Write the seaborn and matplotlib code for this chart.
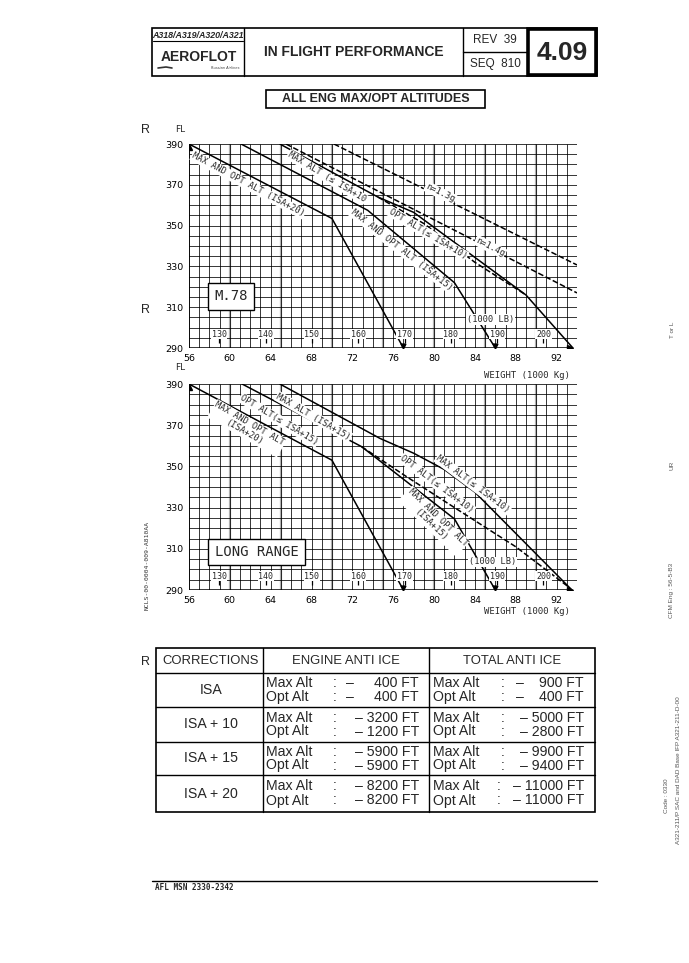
"""ALL ENG MAX/OPT ALTITUDES page (IFP 4.09)"""
import matplotlib
matplotlib.use("Agg")
import matplotlib.pyplot as plt
import numpy as np
import pandas as pd
import seaborn as sns
from matplotlib.patches import Rectangle

# ---- chart data (weight in 1000 kg, flight level) ----
m78_isa20_wt = [56, 70, 77]
m78_isa20_fl = [390, 353.5, 290]
m78_isa15_wt = [61.1, 73.5, 82, 86]
m78_isa15_fl = [390, 357.5, 322, 290]
m78_max10_wt = [64.9, 74.5, 78, 89, 93.6]
m78_max10_fl = [390, 364, 356.5, 316, 290]
m78_opt10_wt = [74.5, 79, 84, 89]
m78_opt10_fl = [364, 351, 332, 316]
m78_n13_wt = [70.2, 94]
m78_n13_fl = [390, 330.7]
m78_n14_wt = [65.5, 94]
m78_n14_fl = [390, 317]

lr_isa20_wt = [56, 70, 77]
lr_isa20_fl = [390, 353, 290]
lr_isa15_wt = [61.2, 72.9, 82, 86]
lr_isa15_fl = [390, 359.6, 324.5, 290]
lr_max_wt = [64.9, 74.7, 78, 81, 84, 93.5]
lr_max_fl = [390, 363.6, 356.4, 348.5, 337.5, 290]
lr_opt10_wt = [72.9, 77, 82, 88, 93.3]
lr_opt10_fl = [359.6, 346, 330, 311, 291]

pound_ticks = [130, 140, 150, 160, 170, 180, 190, 200]
fl_ticks = [290, 310, 330, 350, 370, 390]
wt_ticks = [56, 60, 64, 68, 72, 76, 80, 84, 88, 92]

# ---- corrections table ----
corrections = ["ISA", "ISA + 10", "ISA + 15", "ISA + 20"]
engine_max = [400, 3200, 5900, 8200]
engine_opt = [400, 1200, 5900, 8200]
total_max = [900, 5000, 9900, 11000]
total_opt = [400, 2800, 9400, 11000]

W, H = 689, 963
MONO = "DejaVu Sans Mono"
SANS = "Liberation Sans"

sns.set_theme(style="white")
plt.rcParams["font.family"] = ["DejaVu Sans"]

fig = plt.figure(figsize=(W / 100, H / 100), dpi=100)
fig.patch.set_facecolor("white")
page = fig.add_axes([0, 0, 1, 1])
page.set_xlim(0, W)
page.set_ylim(H, 0)
page.axis("off")


def box(x0, y0, x1, y1, lw=1.0):
    page.add_patch(Rectangle((x0, y0), x1 - x0, y1 - y0, fill=False,
                             edgecolor="black", lw=lw))


def line(x0, y0, x1, y1, lw=1.0):
    page.plot([x0, x1], [y0, y1], color="black", lw=lw)


# header
box(152, 28, 597, 76, lw=1.2)
line(244, 28, 244, 76)
line(463, 28, 463, 76)
line(463, 52, 527, 52)
box(528, 29, 596, 75, lw=2.6)
page.text(198, 35, "A318/A319/A320/A321", fontsize=6.4, fontweight="bold",
          style="italic", family=SANS, ha="center", va="center")
line(153, 41.5, 243, 41.5, lw=0.8)
page.text(199, 57, "AEROFLOT", fontsize=10, fontweight="bold", family=SANS,
          ha="center", va="center")
page.plot([158, 166, 172], [68, 67, 68], color="#333", lw=1.2)
page.text(225, 68, "Russian Airlines", fontsize=2.6, color="#444",
          ha="center", va="center", style="italic")
page.text(354, 52, "IN FLIGHT PERFORMANCE", fontsize=10, fontweight="bold",
          family=SANS, ha="center", va="center")
page.text(495, 40, "REV  39", fontsize=8.5, family=SANS,
          ha="center", va="center")
page.text(495, 64, "SEQ  810", fontsize=8.5, family=SANS,
          ha="center", va="center")
page.text(562, 53, "4.09", fontsize=19, fontweight="bold", family=SANS,
          ha="center", va="center")

# title
box(266, 90, 485, 108, lw=1.2)
page.text(375.5, 99.5, "ALL ENG MAX/OPT ALTITUDES", fontsize=9,
          fontweight="bold", family=SANS, ha="center", va="center")

for y in (130, 310, 662):
    page.text(145, y, "R", fontsize=9, family=SANS, ha="center", va="center")


def draw_chart(rect, curves, labels, box_text, box_xy, lb_y):
    ax = fig.add_axes(rect)
    ax.set_xlim(56, 94)
    ax.set_ylim(290, 390)
    ax.patch.set_alpha(0)
    for s in ax.spines.values():
        s.set_visible(False)
    ax.vlines(np.arange(56, 95), 290, 390, color="black", lw=0.55, zorder=1)
    ax.hlines(np.arange(290, 391, 5), 56, 94, color="black", lw=0.55,
              zorder=1)
    ax.vlines(np.arange(60, 95, 5), 290, 390, color="#b0b0b0", lw=1.6,
              zorder=0.9)
    ax.plot([56, 56], [290, 390], color="black", lw=1.1, zorder=3)
    ax.plot([56, 93.3], [290, 290], color="black", lw=1.1, zorder=3)
    ax.plot([56], [388.5], marker="^", color="black", ms=4, zorder=4)
    ax.plot([93.3], [290], marker=">", color="black", ms=5, zorder=4)

    for wt, fl, ls, arrow in curves:
        df = pd.DataFrame({"weight": wt, "fl": fl})
        sns.lineplot(data=df, x="weight", y="fl", ax=ax, sort=False,
                     estimator=None, color="black", lw=1.1, linestyle=ls,
                     zorder=3)
        if arrow:
            ax.plot([wt[-1]], [fl[-1] + 1.2], marker="v", color="black",
                    ms=3.5, zorder=4)

    for txt, x, y, rot in labels:
        ax.text(x, y, txt, rotation=rot, family=MONO, fontsize=6.2,
                ha="center", va="center", rotation_mode="anchor", zorder=5,
                bbox=dict(facecolor="white", edgecolor="none", pad=0.6))

    for lb in pound_ticks:
        w = lb * 0.45359237
        ax.text(w, lb_y, str(lb), family=MONO, fontsize=6, ha="center",
                va="center", zorder=5,
                bbox=dict(facecolor="white", edgecolor="none", pad=0.4))
        ax.vlines(w, 292.3, 295, color="black", lw=0.9, zorder=3)

    bx, by = box_xy
    ax.text(bx, by, box_text, family=MONO, fontsize=10, ha="left",
            va="center", zorder=6,
            bbox=dict(facecolor="white", edgecolor="black", lw=1.0,
                      boxstyle="square,pad=0.45"))

    ax.set_xticks(wt_ticks)
    ax.set_yticks(fl_ticks)
    ax.tick_params(axis="both", length=3, width=0.8, labelsize=6.8,
                   direction="out", pad=1, colors="black")
    ax.set_xlabel("")
    ax.set_ylabel("")
    return ax


top_curves = [
    (m78_isa20_wt, m78_isa20_fl, "-", True),
    (m78_isa15_wt, m78_isa15_fl, "-", True),
    (m78_max10_wt, m78_max10_fl, "-", False),
    (m78_opt10_wt, m78_opt10_fl, "--", False),
    (m78_n13_wt, m78_n13_fl, "--", False),
    (m78_n14_wt, m78_n14_fl, "--", False),
]
top_labels = [
    ("MAX AND OPT ALT (ISA+20)", 61.8, 370, -28),
    ("MAX ALT (≤ ISA+10", 69.5, 373.8, -31),
    ("n=1.3g", 80.6, 366, -26),
    ("OPT ALT(≤ ISA+10)", 79.4, 346, -31),
    ("n=1.4g", 85.5, 339.5, -27),
    ("MAX AND OPT ALT (ISA+15)", 76.8, 338, -38),
    ("(1000 LB)", 85.5, 304, 0),
]
draw_chart([189 / W, 1 - 348 / H, 388 / W, 204 / H], top_curves, top_labels,
           "M.78", (58.5, 315.3), 296.7)

bot_curves = [
    (lr_isa20_wt, lr_isa20_fl, "-", True),
    (lr_isa15_wt, lr_isa15_fl, "-", True),
    (lr_max_wt, lr_max_fl, "-", False),
    (lr_opt10_wt, lr_opt10_fl, "--", False),
]
bot_labels = [
    ("MAX AND OPT ALT\n(ISA+20)", 61.7, 368.5, -30),
    ("OPT ALT(≤ ISA+15)", 64.8, 372.5, -31),
    ("MAX ALT (ISA+15)", 68.2, 374.1, -30),
    ("MAX ALT(≤ ISA+10)", 83.8, 341.3, -37),
    ("OPT ALT(≤ ISA+10)", 80.3, 341.3, -37),
    ("MAX AND OPT ALT\n(ISA+15)", 80.0, 323.5, -44),
    ("(1000 LB)", 85.7, 303.6, 0),
]
draw_chart([189 / W, 1 - 590 / H, 388 / W, 206 / H], bot_curves, bot_labels,
           "LONG RANGE", (58.5, 308.4), 296.7)

# axis captions
for y in (130, 368):
    page.text(180, y, "FL", fontsize=6.5, ha="center", va="center")
page.text(570, 376, "WEIGHT (1000 Kg)", family=MONO, fontsize=6.4,
          ha="right", va="center")
page.text(570, 612, "WEIGHT (1000 Kg)", family=MONO, fontsize=6.4,
          ha="right", va="center")
page.text(147, 565, "NCLS-00-0004-009-A810AA", family=MONO, fontsize=4.6,
          rotation=90, ha="center", va="center", color="#333")

# side notes
side = [("T or L", 672, 330), ("UR", 672, 465),
        ("CFM Eng : 56-5-B3", 672, 590), ("Code : 0330", 667, 796),
        ("A321-211/P SAC and DAD Base IFP A321-211-D-00", 678, 770)]
for txt, x, y in side:
    page.text(x, y, txt, fontsize=4.6, rotation=90, ha="center",
              va="center", color="#555", family=SANS)

# corrections table
box(156, 648, 595, 812, lw=1.2)
line(263, 648, 263, 812)
line(429, 648, 429, 812)
for y in (673, 707, 742, 775):
    line(156, y, 595, y)
page.text(211, 661, "CORRECTIONS", fontsize=9.4, family=SANS, ha="center",
          va="center")
page.text(346, 661, "ENGINE ANTI ICE", fontsize=9.4, family=SANS,
          ha="center", va="center")
page.text(512, 661, "TOTAL ANTI ICE", fontsize=9.4, family=SANS,
          ha="center", va="center")
row_mid = [690, 724.5, 758.5, 793.5]
FS = 10.2


def cell(x_lab, x_colon, x_dash, x_end, y, name, val):
    page.text(x_lab, y, name, fontsize=FS, family=SANS, va="center")
    page.text(x_colon, y, ":", fontsize=FS, family=SANS, va="center",
              ha="center")
    if val < 1000:
        page.text(x_dash, y, "–", fontsize=FS, family=SANS, va="center",
                  ha="center")
        page.text(x_end, y, f"{val} FT", fontsize=FS, family=SANS,
                  va="center", ha="right")
    else:
        page.text(x_end, y, f"– {val} FT", fontsize=FS, family=SANS,
                  va="center", ha="right")


for i, name in enumerate(corrections):
    ym = row_mid[i]
    page.text(211, ym, name, fontsize=FS, family=SANS, ha="center",
              va="center")
    cell(266, 335, 350, 419, ym - 7, "Max Alt", engine_max[i])
    cell(266, 335, 350, 419, ym + 7, "Opt Alt", engine_opt[i])
    cx = 503 if total_max[i] < 10000 else 499
    cell(433, cx, 520, 584, ym - 7, "Max Alt", total_max[i])
    cell(433, cx, 520, 584, ym + 7, "Opt Alt", total_opt[i])

# footer
line(152, 881, 597, 881, lw=1.0)
page.text(155, 888, "AFL MSN 2330-2342", fontsize=5.5, fontweight="bold",
          family=MONO, va="center")

fig.savefig("out.png", dpi=100, facecolor="white")
